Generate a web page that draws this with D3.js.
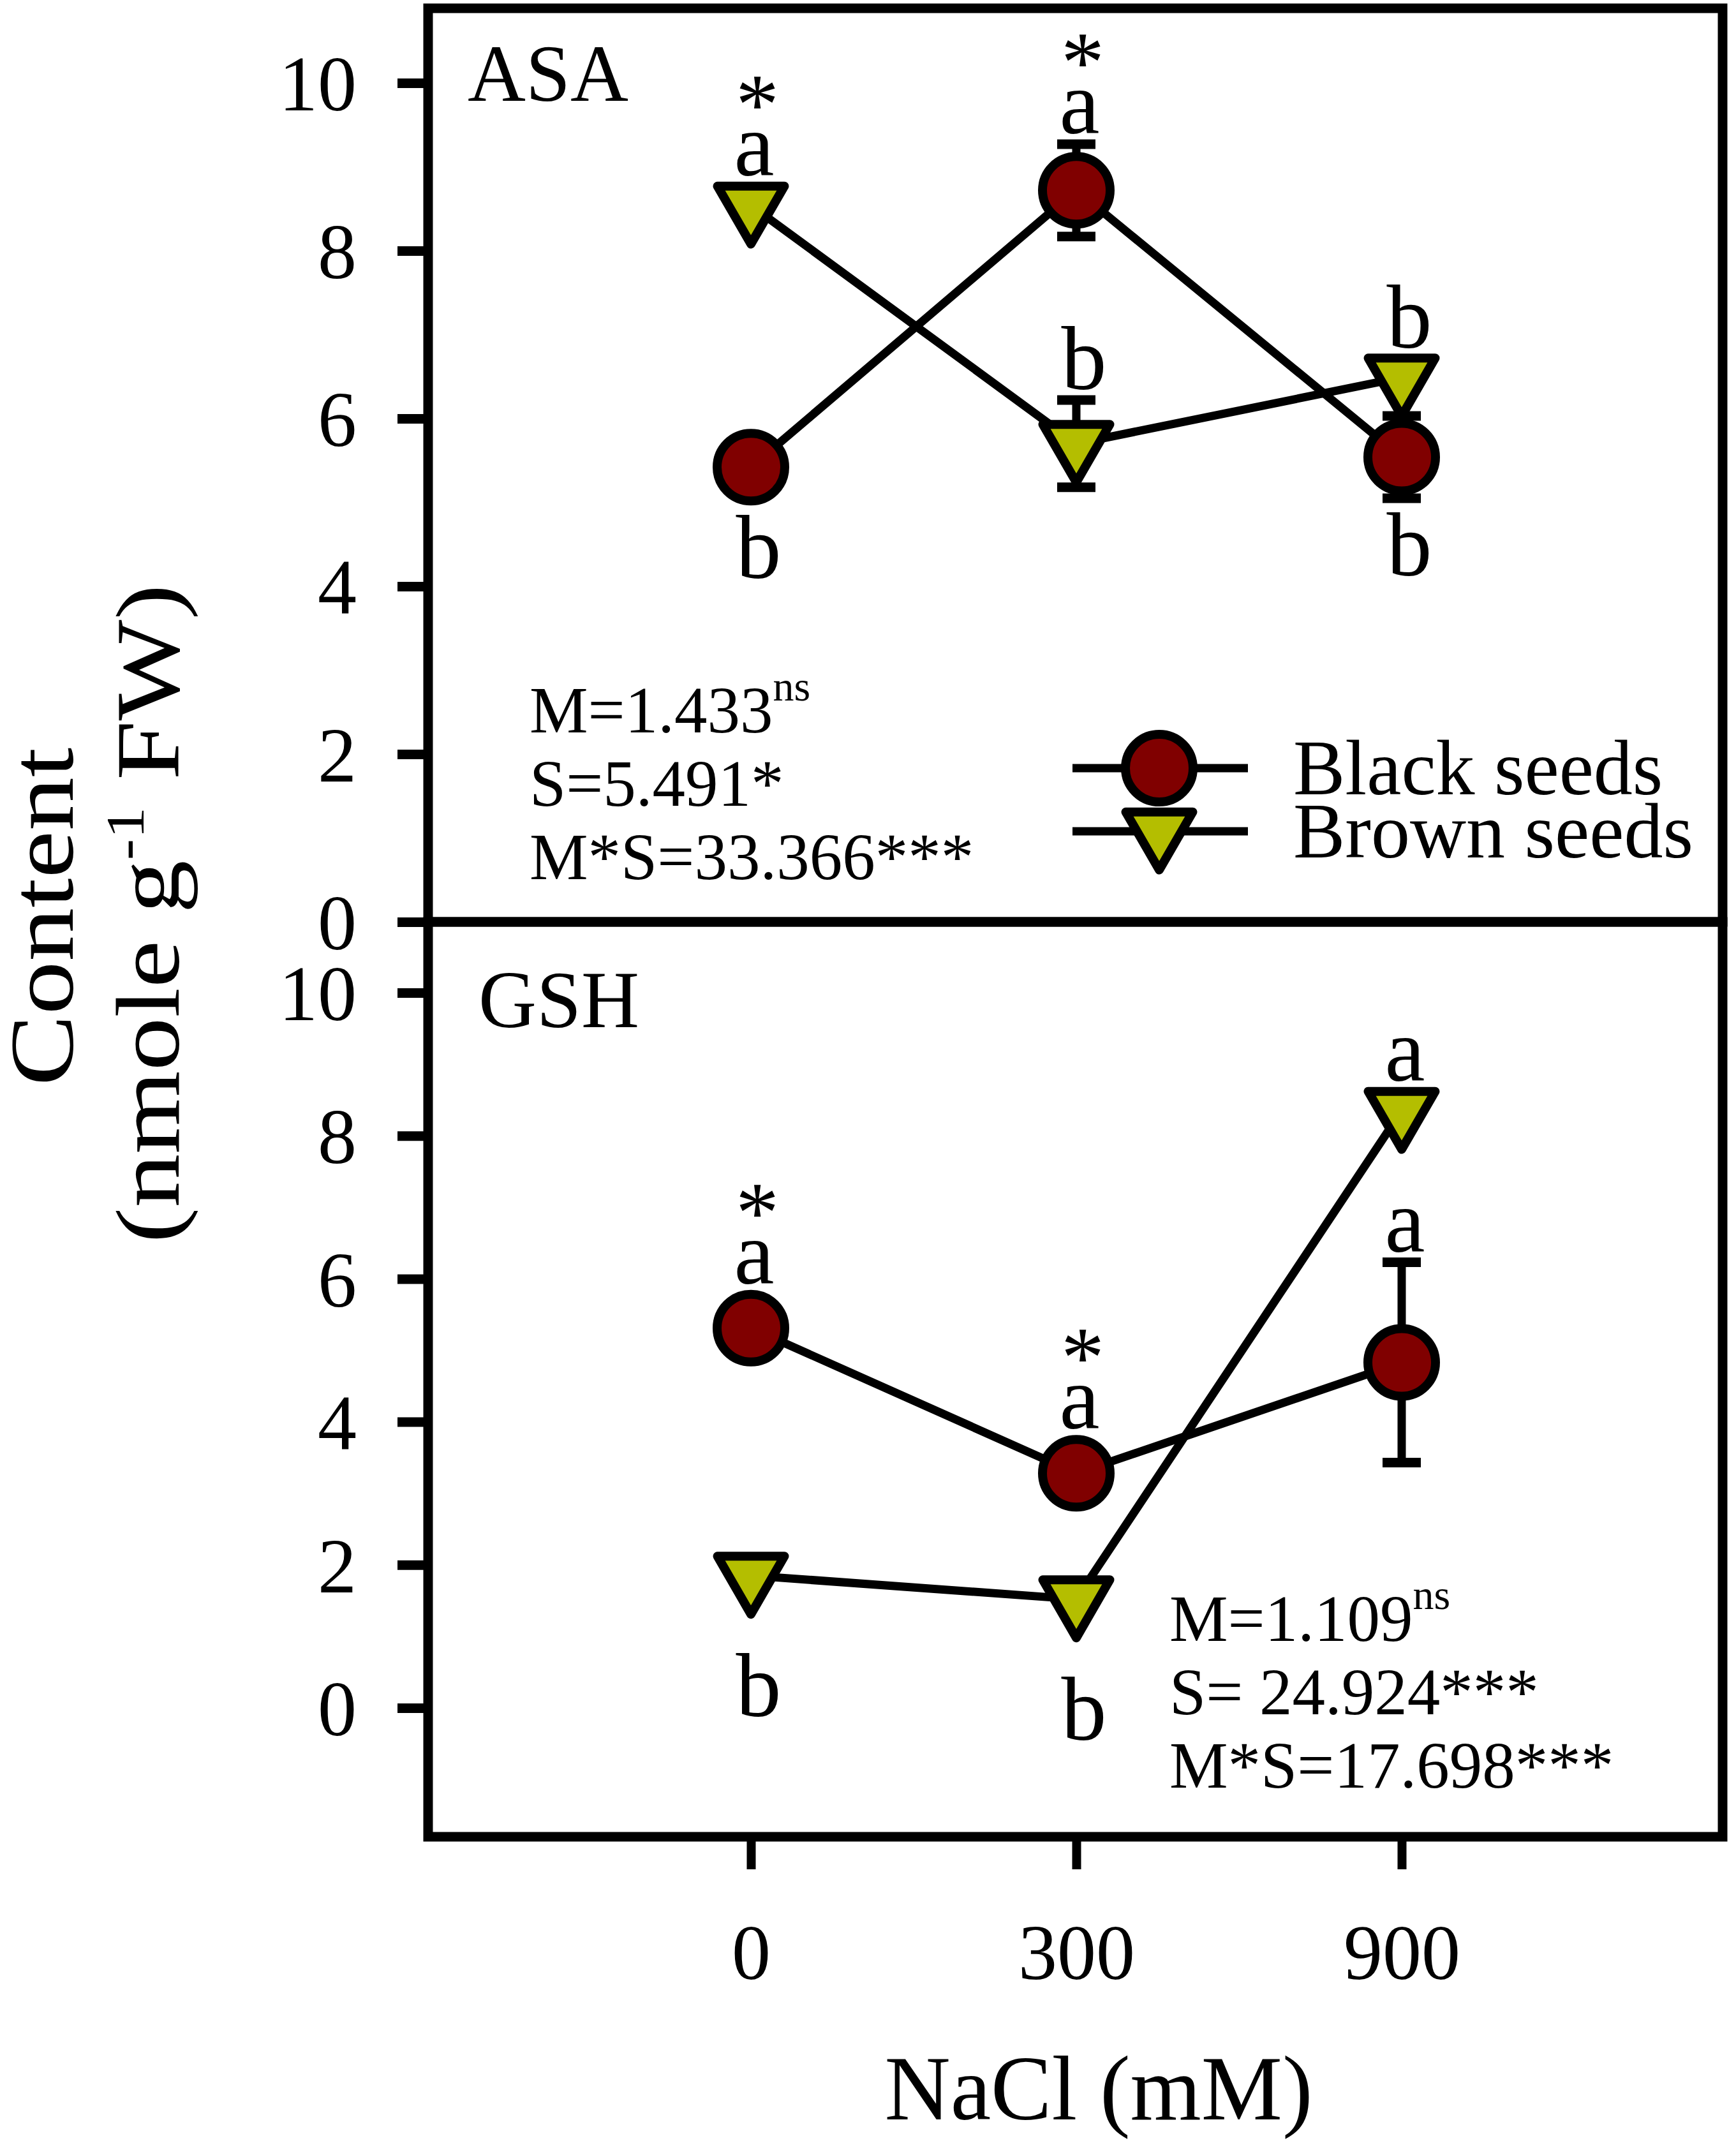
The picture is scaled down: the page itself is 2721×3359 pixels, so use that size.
<!DOCTYPE html>
<html>
<head>
<meta charset="utf-8">
<script src="https://cdn.jsdelivr.net/npm/d3@7"></script>
<style>
  body { margin: 0; background: #fff; }
  text { font-family: "Liberation Serif", "Times New Roman", serif; fill: #000; }
</style>
</head>
<body>
<svg id="chart" width="2721" height="3359"></svg>
<script>
// NaCl doses on the x axis
const doses = ["0", "300", "900"];
const seriesNames = ["Black seeds", "Brown seeds"];
const yTicks = [0, 2, 4, 6, 8, 10];

// ASA panel
const asaBlack = [5.42, 8.72, 5.54];
const asaBlackErr = [0, 0.55, 0.49];
const asaBrown = [8.54, 5.70, 6.49];
const asaBrownErr = [0, 0.52, 0];
const asaBlackLetters = ["b", "a", "b"];
const asaBrownLetters = ["a", "b", "b"];
const asaBlackSide = ["below", "above", "below"];
const asaBrownSide = ["above", "above", "above"];
const asaBlackStar = [false, true, false];
const asaBrownStar = [true, false, false];
const asaStats = [["M=1.433", "ns"], ["S=5.491*", ""], ["M*S=33.366***", ""]];

// GSH panel
const gshBlack = [5.31, 3.28, 4.83];
const gshBlackErr = [0, 0, 1.40];
const gshBrown = [1.85, 1.52, 8.35];
const gshBrownErr = [0, 0, 0];
const gshBlackLetters = ["a", "a", "a"];
const gshBrownLetters = ["b", "b", "a"];
const gshBlackSide = ["above", "above", "above"];
const gshBrownSide = ["below", "below", "above"];
const gshBlackStar = [true, true, false];
const gshBrownStar = [false, false, false];
const gshStats = [["M=1.109", "ns"], ["S= 24.924***", ""], ["M*S=17.698***", ""]];

const colors = { black: "#800000", brown: "#b4be00" };

const svg = d3.select("#chart");
const left = 671, right = 2700;

const x = d3.scalePoint()
  .domain(doses)
  .range([667, 2707])
  .padding(1);

function makeSeries(name, key, values, errs, letters, sides, stars) {
  return values.map((v, i) => ({
    name, key, dose: doses[i], value: v, err: errs[i],
    letter: letters[i], side: sides[i], star: stars[i]
  }));
}

const panels = [
  {
    title: "ASA", top: 13, bottom: 1445,
    y: d3.scaleLinear().domain([0, 10]).range([1445, 130]),
    series: [
      makeSeries("Black seeds", "black", asaBlack, asaBlackErr, asaBlackLetters, asaBlackSide, asaBlackStar),
      makeSeries("Brown seeds", "brown", asaBrown, asaBrownErr, asaBrownLetters, asaBrownSide, asaBrownStar)
    ],
    stats: asaStats, statsX: 830, statsY: 1148, titleY: 158, titleX: 733,
    legend: true
  },
  {
    title: "GSH", top: 1445, bottom: 2879,
    y: d3.scaleLinear().domain([0, 10]).range([2677, 1556]),
    series: [
      makeSeries("Black seeds", "black", gshBlack, gshBlackErr, gshBlackLetters, gshBlackSide, gshBlackStar),
      makeSeries("Brown seeds", "brown", gshBrown, gshBrownErr, gshBrownLetters, gshBrownSide, gshBrownStar)
    ],
    stats: gshStats, statsX: 1833, statsY: 2572, titleY: 1610, titleX: 750,
    legend: false
  }
];

const circleSym = d3.symbol().type(d3.symbolCircle).size(Math.PI * 53 * 53);
const triSym = d3.symbol().type(d3.symbolTriangle).size(30.3 * 30.3 * 3 * Math.sqrt(3));

function drawMarker(g, key, cx, cy) {
  if (key === "black") {
    g.append("path")
      .attr("d", circleSym())
      .attr("transform", `translate(${cx},${cy})`)
      .attr("fill", colors.black)
      .attr("stroke", "#000")
      .attr("stroke-width", 14);
  } else {
    g.append("path")
      .attr("d", triSym())
      .attr("transform", `translate(${cx},${cy}) rotate(180)`)
      .attr("fill", colors.brown)
      .attr("stroke", "#000")
      .attr("stroke-width", 14)
      .attr("stroke-linejoin", "round");
  }
}

// extents of markers above / below centre point
const markerUp = { black: 60, brown: 37 };
const markerDown = { black: 60, brown: 74 };

panels.forEach(p => {
  const g = svg.append("g");
  const y = p.y;

  // y axis
  const yAxis = d3.axisLeft(y).tickValues(yTicks).tickSize(48).tickPadding(64);
  const ga = g.append("g").attr("transform", `translate(${left},0)`).call(yAxis);
  ga.select(".domain").remove();
  ga.selectAll(".tick line").attr("stroke", "#000").attr("stroke-width", 15);
  ga.selectAll(".tick text")
    .attr("font-size", 122)
    .attr("dy", "0.35em")
    .style("font-family", "'Liberation Serif', 'Times New Roman', serif");

  // lines
  const line = d3.line().x(d => x(d.dose)).y(d => y(d.value));
  p.series.forEach(s => {
    g.append("path")
      .datum(s)
      .attr("d", line)
      .attr("fill", "none")
      .attr("stroke", "#000")
      .attr("stroke-width", 13);
  });

  // error bars
  p.series.forEach(s => {
    s.filter(d => d.err > 0).forEach(d => {
      const cx = x(d.dose);
      g.append("line")
        .attr("x1", cx).attr("x2", cx)
        .attr("y1", y(d.value - d.err)).attr("y2", y(d.value + d.err))
        .attr("stroke", "#000").attr("stroke-width", 13);
      [d.value - d.err, d.value + d.err].forEach(v => {
        g.append("line")
          .attr("x1", cx - 30).attr("x2", cx + 30)
          .attr("y1", y(v)).attr("y2", y(v))
          .attr("stroke", "#000").attr("stroke-width", 15);
      });
    });
  });

  // markers
  p.series.forEach(s => {
    s.forEach(d => drawMarker(g, d.key, x(d.dose), y(d.value)));
  });

  // significance letters
  p.series.forEach(s => {
    s.forEach(d => {
      const cx = x(d.dose) + (d.letter === "b" ? 12 : 5);
      let base;
      if (d.side === "above") {
        const topMark = y(d.value) - markerUp[d.key];
        const topErr = d.err > 0 ? y(d.value + d.err) - 7 : Infinity;
        base = Math.min(topMark, topErr) - 10;
      } else {
        const botMark = y(d.value) + markerDown[d.key];
        const botErr = d.err > 0 ? y(d.value - d.err) + 7 : -Infinity;
        base = Math.max(botMark, botErr) + (d.key === "black" ? 16 : 48) + 98;
      }
      g.append("text")
        .attr("x", cx).attr("y", base)
        .attr("text-anchor", "middle")
        .attr("font-size", 142)
        .text(d.letter);
      if (d.star) {
        g.append("text")
          .attr("x", cx + 5).attr("y", base - 66)
          .attr("text-anchor", "middle")
          .attr("font-size", 136)
          .text("*");
      }
    });
  });

  // panel title
  g.append("text")
    .attr("x", p.titleX).attr("y", p.titleY)
    .attr("font-size", 126)
    .text(p.title);

  // stats
  p.stats.forEach((st, i) => {
    const t = g.append("text")
      .attr("x", p.statsX).attr("y", p.statsY + i * 115)
      .attr("font-size", 103)
      .text(st[0]);
    if (st[1]) {
      t.append("tspan")
        .attr("dy", -50)
        .attr("font-size", 66)
        .text(st[1]);
    }
  });

  // frame
  g.append("rect")
    .attr("x", left).attr("y", p.top)
    .attr("width", right - left).attr("height", p.bottom - p.top)
    .attr("fill", "none")
    .attr("stroke", "#000")
    .attr("stroke-width", 15);

  // legend
  if (p.legend) {
    const lg = g.append("g");
    const rows = [{ key: "black", name: seriesNames[0], y: 1204 }, { key: "brown", name: seriesNames[1], y: 1303 }];
    rows.forEach(r => {
      lg.append("line")
        .attr("x1", 1681).attr("x2", 1956)
        .attr("y1", r.y).attr("y2", r.y)
        .attr("stroke", "#000").attr("stroke-width", 13);
      drawMarker(lg, r.key, 1817, r.y);
      lg.append("text")
        .attr("x", 2027).attr("y", r.y + 41)
        .attr("font-size", 122)
        .text(r.name);
    });
  }
});

// x axis below the lower panel
const xAxis = d3.axisBottom(x).tickSize(44).tickPadding(85);
const gx = svg.append("g").attr("transform", "translate(0,2886)").call(xAxis);
gx.select(".domain").remove();
gx.selectAll(".tick line").attr("stroke", "#000").attr("stroke-width", 14);
gx.selectAll(".tick text")
  .attr("font-size", 122)
  .style("font-family", "'Liberation Serif', 'Times New Roman', serif");

// axis titles
svg.append("text")
  .attr("x", 1722).attr("y", 3322)
  .attr("text-anchor", "middle")
  .attr("font-size", 143)
  .text("NaCl (mM)");

svg.append("text")
  .attr("transform", "translate(114,1437) rotate(-90) scale(1.18,1)")
  .attr("text-anchor", "middle")
  .attr("font-size", 142)
  .text("Content");

const yt2 = svg.append("text")
  .attr("transform", "translate(280,1432) rotate(-90) scale(1.18,1)")
  .attr("text-anchor", "middle")
  .attr("font-size", 142);
yt2.append("tspan").text("(nmole g");
yt2.append("tspan").attr("dy", -55).attr("font-size", 85).text("-1");
yt2.append("tspan").attr("dy", 55).text(" FW)");
</script>
</body>
</html>
